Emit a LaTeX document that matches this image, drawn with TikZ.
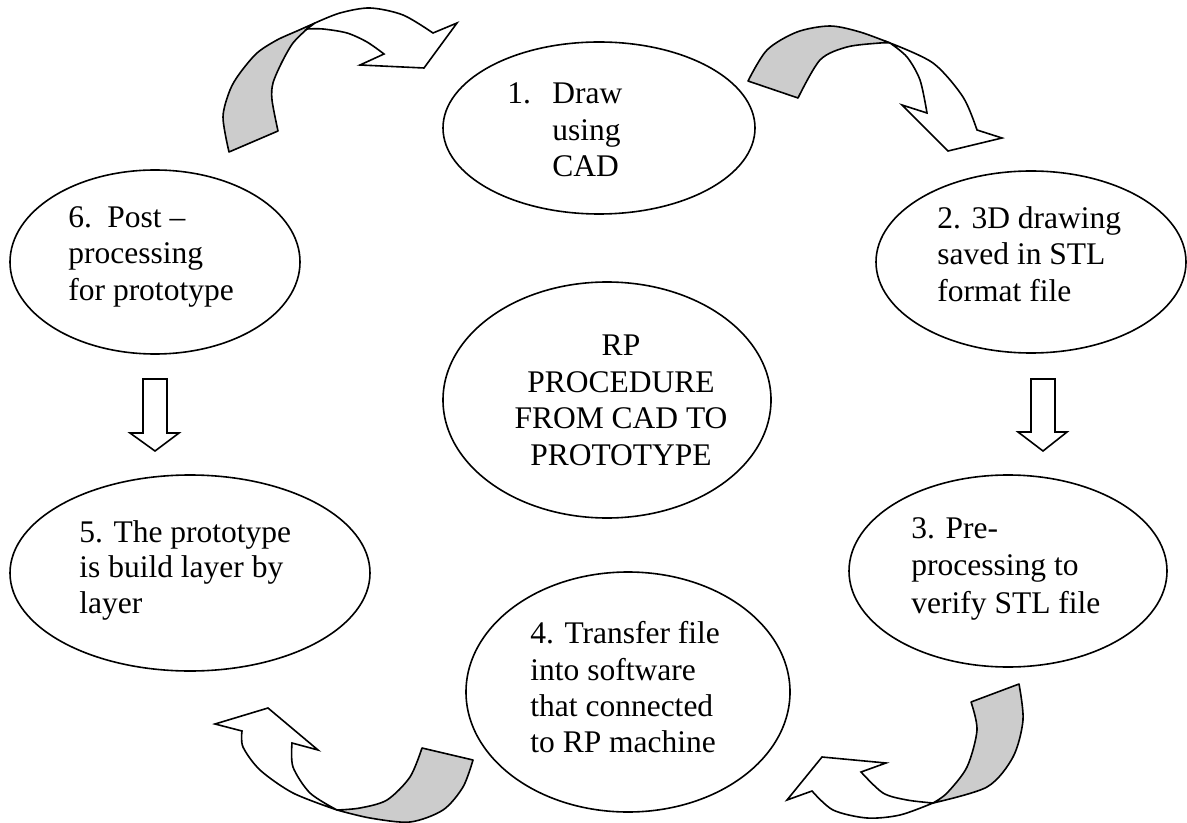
\documentclass[tikz,border=0pt]{standalone}
\usepackage{fontspec}
\setmainfont{Liberation Serif}
\usetikzlibrary{shapes.geometric}
\begin{document}
\begin{tikzpicture}[x=0.5pt,y=-0.5pt,
  oval/.style={draw, ellipse, line width=0.8pt, inner sep=0pt},
  txt/.style={anchor=base west, inner sep=0pt, font=\fontsize{15.75}{18}\selectfont},
  ctxt/.style={anchor=base, inner sep=0pt, font=\fontsize{15.75}{18}\selectfont},
  back/.style={draw, line width=0.8pt, fill=gray!40, line join=round},
  front/.style={draw, line width=0.8pt, fill=white, line join=miter},
  blockarrow/.style={draw, line width=0.8pt, fill=white, line join=miter}]
\useasboundingbox (0,0) rectangle (1187,823);

% ellipses
\node[oval, minimum width=312pt/2, minimum height=172pt/2] (e1) at (599,128) {};
\node[oval, minimum width=310pt/2, minimum height=182pt/2] (e2) at (1031,262) {};
\node[oval, minimum width=318pt/2, minimum height=192pt/2] (e3) at (1008,571) {};
\node[oval, minimum width=324pt/2, minimum height=240pt/2] (e4) at (628,692) {};
\node[oval, minimum width=360pt/2, minimum height=196pt/2] (e5) at (190,573) {};
\node[oval, minimum width=290pt/2, minimum height=184pt/2] (e6) at (155,262) {};
\node[oval, minimum width=328pt/2, minimum height=236pt/2] (ec) at (607,400) {};

% texts
\node[txt] (t1a) at (507,104) {1.};
\node[txt] (t1b) at (552,104) {Draw};
\node[txt] (t1c) at (552,141) {using};
\node[txt] (t1d) at (552,177) {CAD};

\node[txt] (t2a) at (937,229) {2. 3D drawing};
\node[txt] (t2b) at (937,265) {saved in STL};
\node[txt] (t2c) at (937,302) {format file};

\node[txt] (t3a) at (911,538) {3. Pre-};
\node[txt] (t3b) at (911,575) {processing to};
\node[txt] (t3c) at (911,613) {verify STL file};

\node[txt] (t4a) at (530,643) {4. Transfer file};
\node[txt] (t4b) at (530,680) {into software};
\node[txt] (t4c) at (530,716) {that connected};
\node[txt] (t4d) at (530,752) {to RP machine};

\node[txt] (t5a) at (79,542) {5. The prototype};
\node[txt] (t5b) at (79,577) {is build layer by};
\node[txt] (t5c) at (79,613) {layer};

\node[txt] (t6a) at (68,228) {6.};
\node[txt] (t6b) at (107,228) {Post --};
\node[txt] (t6c) at (68,264) {processing};
\node[txt] (t6d) at (68,301) {for prototype};

\node[ctxt] (tca) at (621,356) {RP};
\node[ctxt] (tcb) at (621,392) {PROCEDURE};
\node[ctxt] (tcc) at (621,428) {FROM CAD TO};
\node[ctxt] (tcd) at (621,465) {PROTOTYPE};

% straight block arrows
\draw[blockarrow] (143,379) -- (167,379) -- (167,433) -- (179,433) -- (155,451) -- (130,433) -- (143,433) -- cycle;
\draw[blockarrow] (1031,379) -- (1055,379) -- (1055,432) -- (1067,432) -- (1043,451) -- (1018,432) -- (1031,432) -- cycle;

% curved arrow A (6 -> 1)
\draw[back] plot[smooth] coordinates {(229,152) (223,117) (230,90) (240,73) (257,53) (277,40) (297,31) (315,23)}
  -- plot[smooth] coordinates {(307,29) (293,43) (282,62) (273,83) (272,100) (278,131)} -- cycle;
\draw[front] plot[smooth] coordinates {(315,23) (340,13) (370,8) (403,15) (433,33)}
  -- (457,23) -- (424,68) -- (360,65) -- (384,54)
  -- plot[smooth] coordinates {(384,54) (367,42) (347,33) (323,29) (307,29)} -- cycle;

% curved arrow B (1 -> 2)
\draw[back] plot[smooth] coordinates {(748,81) (767,50) (797,32) (830,26) (860,32) (890,43)}
  -- plot[smooth] coordinates {(890,43) (880,43) (847,47) (820,60) (798,98)} -- cycle;
\draw[front] plot[smooth] coordinates {(890,43) (933,63) (963,97) (977,130)}
  -- (1002,138) -- (948,151) -- (902,105) -- (927,113)
  -- plot[smooth] coordinates {(927,113) (920,80) (907,57) (890,43)} -- cycle;

% curved arrow C (3 -> 4)
\draw[back] plot[smooth] coordinates {(1019,684) (1023,720) (1013,757) (987,787) (933,803)}
  -- plot[smooth] coordinates {(933,803) (947,793) (967,767) (977,730) (971,702)} -- cycle;
\draw[front] plot[smooth] coordinates {(933,803) (900,815) (867,818) (833,810) (812,791)}
  -- (787,800) -- (822,757) -- (886,763) -- (861,772)
  -- plot[smooth] coordinates {(861,772) (883,793) (907,800) (933,803)} -- cycle;

% curved arrow D (4 -> 5)
\draw[back] plot[smooth] coordinates {(473,760) (463,787) (443,810) (410,822) (370,818) (337,810)}
  -- plot[smooth] coordinates {(337,810) (360,808) (387,800) (410,777) (422,748)} -- cycle;
\draw[front] plot[smooth] coordinates {(337,810) (293,793) (260,770) (243,747) (242,731)}
  -- (215,724) -- (268,708) -- (318,750) -- (292,743)
  -- plot[smooth] coordinates {(292,743) (293,767) (310,793) (337,810)} -- cycle;
\end{tikzpicture}
\end{document}
